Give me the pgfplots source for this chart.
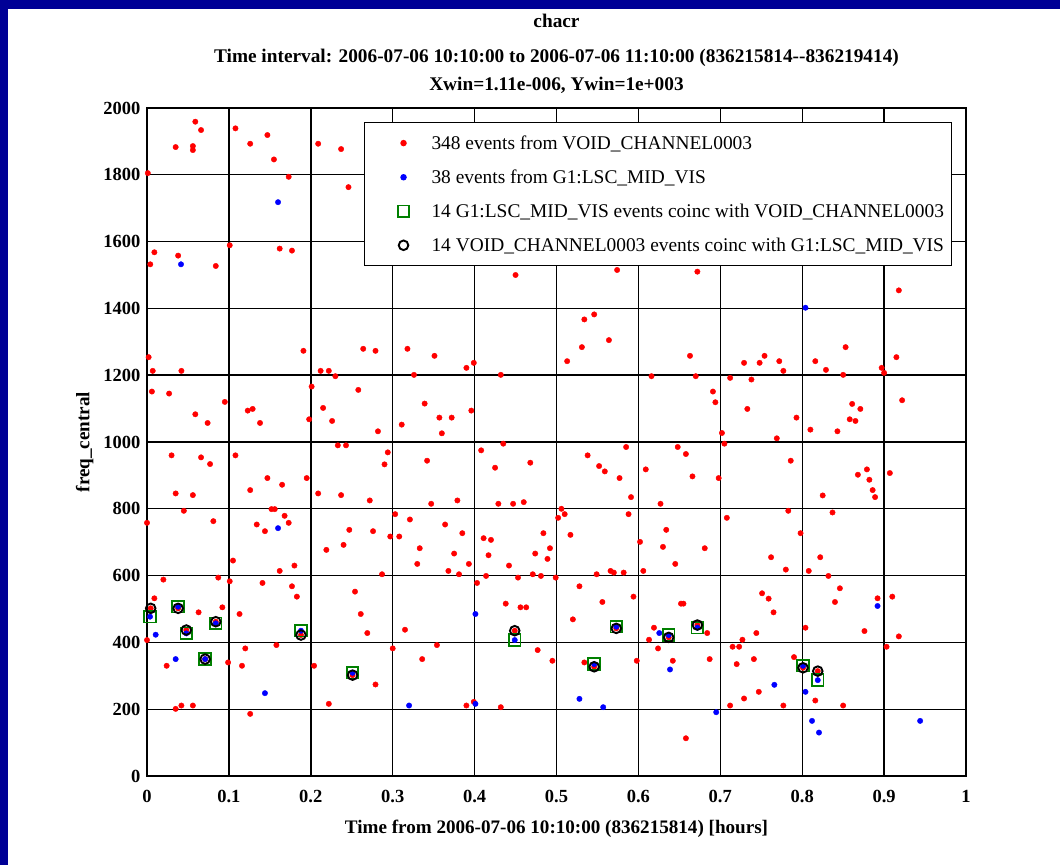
\documentclass[border=0pt]{standalone}
\usepackage{fontspec}
\setmainfont{Liberation Serif}
\usepackage{pgfplots}
\pgfplotsset{compat=1.18}
\definecolor{bgblue}{RGB}{0,0,150}
\definecolor{mgreen}{RGB}{0,128,0}
\pgfplotsset{
  legimg/.style={legend image code/.code={\path[draw=none,fill=none] (0pt,-5pt) rectangle (59pt,5pt);\draw[##1] plot coordinates {(33pt,0pt)};}},
}
\begin{document}
\begin{tikzpicture}[x=1pt,y=1pt]
\fill[bgblue] (0,0) rectangle (1060,865);
\fill[white] (8,0) rectangle (1060,856);
\begin{axis}[
  at={(147pt,89pt)}, anchor=south west,
  scale only axis, width=819pt, height=668pt,
  xmin=0, xmax=1, ymin=0, ymax=2000,
  xtick={0,0.1,0.2,0.3,0.4,0.5,0.6,0.7,0.8,0.9,1},
  ytick={0,200,400,600,800,1000,1200,1400,1600,1800,2000},
  grid=major, major grid style={black, line width=1.4pt},
  axis line style={black, line width=1.6pt},
  major tick length=0pt,
  tick label style={font=\fontsize{18.5}{18.5}\selectfont\bfseries},
  /pgf/number format/assume math mode=true,
  /pgf/number format/1000 sep={},
  xticklabel style={yshift=-11pt},
  yticklabel style={xshift=-3pt},
  xlabel={Time from 2006-07-06 10:10:00 (836215814) [hours]},
  xlabel style={at={(axis description cs:0.5,-0.079)}, anchor=center, font=\fontsize{19.1}{19.1}\selectfont\bfseries},
  ylabel={freq\_central},
  ylabel style={at={(axis description cs:-0.076,0.5)}, anchor=center, font=\fontsize{19.1}{19.1}\selectfont\bfseries},
  title={chacr\\[7pt]Time interval: 2006-07-06 10:10:00 to 2006-07-06 11:10:00 (836215814-{}-836219414)\\Xwin=1.11e-006, Ywin=1e+003},
  title style={at={(axis description cs:0.5,1.1325)}, anchor=north, align=center, inner sep=0pt, font=\fontsize{19.3}{28}\selectfont\bfseries},
  legend style={at={(axis description cs:0.265,0.979)}, anchor=north west, draw=black, line width=1pt, fill=white,
    font=\fontsize{19.4}{19.4}\selectfont, row sep=15pt, inner xsep=6pt, inner ysep=11pt, cells={anchor=west}},
  legend cell align=left,
]
% red: VOID_CHANNEL0003 events
\addplot[only marks, mark=*, red, mark size=2.7pt, mark options={fill=red, draw=red}, legimg] coordinates {
(0.059,1959)(0.066,1934)(0.035,1883)(0.056,1886)(0.056,1874)(0.108,1939)(0.126,1893)(0.147,1919)(0.155,1846)(0.173,1794)
(0.209,1893)(0.237,1877)(0.246,1763)(0.001,1805)(0.009,1568)(0.004,1532)(0.038,1558)(0.084,1527)(0.101,1589)(0.162,1579)(0.177,1573)
(0.450,1500)(0.534,1367)(0.546,1382)(0.574,1515)(0.672,1510)(0.918,1454)(0.531,1284)(0.564,1305)(0.513,1242)
(0.002,1254)(0.007,1213)(0.042,1213)(0.191,1273)(0.212,1213)(0.222,1213)(0.230,1197)(0.264,1279)(0.279,1273)(0.006,1151)
(0.027,1145)(0.059,1083)(0.074,1057)(0.095,1120)(0.123,1094)(0.129,1099)(0.138,1057)(0.201,1166)(0.198,1068)(0.215,1102)
(0.226,1063)(0.258,1156)(0.282,1032)(0.233,990)(0.243,990)(0.030,960)(0.066,954)(0.077,934)(0.108,960)(0.147,892)
(0.165,872)(0.195,892)(0.126,856)(0.035,846)(0.056,841)(0.209,846)(0.237,841)(0.272,825)(0.045,794)(0.152,799)
(0.156,799)(0.168,779)(0.173,758)(0.000,758)(0.081,763)(0.134,753)(0.144,733)(0.247,737)(0.276,733)(0.240,692)(0.219,677)
(0.318,1279)(0.351,1258)(0.390,1222)(0.399,1237)(0.326,1201)(0.432,1201)(0.339,1115)(0.357,1073)(0.372,1073)(0.396,1094)
(0.311,1052)(0.360,1026)(0.294,969)(0.290,933)(0.342,944)(0.408,975)(0.435,995)(0.425,923)(0.468,938)(0.538,960)
(0.552,928)(0.559,912)(0.577,892)(0.347,815)(0.379,825)(0.429,815)(0.447,815)(0.460,820)(0.506,800)(0.510,784)
(0.502,773)(0.303,784)(0.321,768)(0.364,753)(0.385,727)(0.297,717)(0.308,717)(0.333,682)(0.411,712)(0.420,707)
(0.484,727)(0.492,682)(0.517,722)
(0.663,1258)(0.616,1197)(0.670,1197)(0.729,1237)(0.748,1237)(0.754,1258)(0.772,1242)(0.777,1213)(0.712,1192)(0.738,1187)
(0.816,1242)(0.829,1216)(0.853,1284)(0.850,1201)(0.897,1222)(0.900,1207)(0.915,1254)(0.922,1125)(0.691,1151)(0.694,1119)
(0.733,1099)(0.793,1073)(0.810,1037)(0.843,1032)(0.861,1114)(0.871,1099)(0.858,1068)(0.865,1063)(0.702,1027)(0.705,995)
(0.769,1011)(0.585,985)(0.648,985)(0.658,964)(0.609,918)(0.666,897)(0.698,892)(0.786,944)(0.868,902)(0.879,918)
(0.882,887)(0.886,856)(0.889,835)(0.907,907)(0.591,835)(0.627,815)(0.825,840)(0.588,784)(0.783,794)(0.837,789)
(0.708,773)(0.634,737)(0.602,701)(0.630,686)(0.681,682)(0.798,727)
(0.105,645)(0.020,588)(0.087,594)(0.101,583)(0.162,614)(0.180,630)(0.141,578)(0.177,568)(0.183,537)(0.254,552)
(0.261,485)(0.269,428)(0.279,274)(0.009,532)(0.063,490)(0.092,505)(0.113,485)(0.000,407)(0.120,382)(0.158,392)
(0.024,330)(0.099,340)(0.116,330)(0.204,330)(0.035,201)(0.042,211)(0.056,211)(0.126,186)(0.222,216)
(0.375,666)(0.330,635)(0.393,635)(0.417,661)(0.442,630)(0.474,666)(0.489,650)(0.287,604)(0.368,614)(0.381,604)
(0.414,599)(0.403,578)(0.453,594)(0.471,604)(0.481,599)(0.499,594)(0.528,568)(0.549,604)(0.566,614)(0.570,609)
(0.556,521)(0.520,469)(0.438,516)(0.456,505)(0.463,505)(0.315,438)(0.354,392)(0.300,382)(0.336,350)(0.477,377)
(0.495,345)(0.534,340)(0.390,211)(0.399,222)(0.432,206)
(0.645,635)(0.582,609)(0.606,614)(0.762,655)(0.822,655)(0.780,618)(0.808,614)(0.832,599)(0.846,562)(0.840,521)
(0.892,532)(0.910,537)(0.918,418)(0.903,387)(0.876,434)(0.804,444)(0.751,547)(0.759,531)(0.765,490)(0.744,428)
(0.727,408)(0.715,387)(0.723,387)(0.741,350)(0.720,335)(0.790,356)(0.747,252)(0.729,232)(0.712,211)(0.777,211)
(0.816,226)(0.850,211)(0.594,537)(0.652,516)(0.655,516)(0.619,444)(0.613,408)(0.624,382)(0.642,345)(0.598,345)
(0.687,350)(0.684,428)(0.658,113)
(0.0045,502)(0.038,502)(0.048,437)(0.084,462)(0.071,350)(0.188,422)(0.251,302)(0.449,435)(0.546,327)(0.573,442)
(0.637,415)(0.672,452)(0.801,324)(0.819,314)
};
\addlegendentry{348 events from VOID\_CHANNEL0003}
% blue: G1:LSC_MID_VIS events
\addplot[only marks, mark=*, blue, mark size=2.7pt, mark options={fill=blue, draw=blue}, legimg] coordinates {
(0.160,1718)(0.0415,1532)(0.804,1402)(0.160,742)(0.0106,423)(0.035,350)(0.144,248)(0.401,485)(0.320,211)(0.401,216)
(0.528,231)(0.557,206)(0.6255,428)(0.6386,319)(0.695,191)(0.766,273)(0.804,252)(0.812,165)(0.8205,130)(0.892,509)(0.944,165)
(0.0037,477)(0.038,507)(0.048,427)(0.084,457)(0.071,350)(0.188,435)(0.251,309)(0.449,407)(0.546,335)(0.573,447)
(0.637,422)(0.672,444)(0.801,330)(0.819,287)
};
\addlegendentry{38 events from G1:LSC\_MID\_VIS}
% green squares: coincident G1 events
\addplot[only marks, mark=square, mgreen, mark size=5.8pt, mark options={draw=mgreen, line width=1.8pt}, legimg] coordinates {
(0.0037,477)(0.038,507)(0.048,427)(0.084,457)(0.071,350)(0.188,435)(0.251,309)(0.449,407)(0.546,335)(0.573,447)
(0.637,422)(0.672,444)(0.801,330)(0.819,287)
};
\addlegendentry{14 G1:LSC\_MID\_VIS events coinc with VOID\_CHANNEL0003}
% black circles: coincident VOID events
\addplot[only marks, mark=o, black, mark size=4.8pt, mark options={draw=black, line width=1.9pt}, legimg] coordinates {
(0.0045,502)(0.038,502)(0.048,437)(0.084,462)(0.071,350)(0.188,422)(0.251,302)(0.449,435)(0.546,327)(0.573,442)
(0.637,415)(0.672,452)(0.801,324)(0.819,314)
};
\addlegendentry{14 VOID\_CHANNEL0003 events coinc with G1:LSC\_MID\_VIS}
\end{axis}
\end{tikzpicture}
\end{document}
